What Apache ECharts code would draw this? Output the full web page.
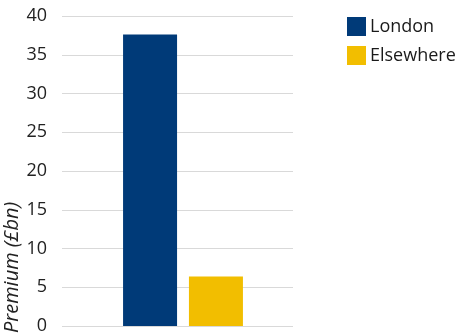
<!DOCTYPE html>
<html><head><meta charset="utf-8">
<script src="https://cdn.jsdelivr.net/npm/echarts@6/dist/echarts.min.js"></script>
<style>html,body{margin:0;padding:0;background:#fff}#c{width:461px;height:335px}</style>
</head><body><div id="c"></div>
<script>
const categories = ['Premium'];
const seriesNames = ['London', 'Elsewhere'];
const londonValues = [37.6];
const elsewhereValues = [6.4];
const yTicks = [0, 5, 10, 15, 20, 25, 30, 35, 40];
const axisTitle = 'Premium (£bn)';

const font = '"Open Sans", "Noto Sans", sans-serif';
const chart = echarts.init(document.getElementById('c'));
chart.setOption({
  animation: false,
  textStyle: { fontFamily: font },
  legend: {
    orient: 'vertical', left: 342, top: 12,
    itemWidth: 19, itemHeight: 19, itemGap: 10,
    icon: 'rect',
    textStyle: { fontSize: 18, color: '#1a1a1a', fontFamily: font, padding: [0, 0, 0, -1] },
    data: seriesNames
  },
  grid: [
    { left: 62, top: 16, width: 231, bottom: 9, outerBoundsMode: 'none', containLabel: false },
    { left: 62, top: 16, width: 242, bottom: 9, outerBoundsMode: 'none', containLabel: false }
  ],
  xAxis: [
    { type: 'category', gridIndex: 0, data: categories, show: false },
    { type: 'category', gridIndex: 1, data: categories, show: false }
  ],
  yAxis: [
    {
      type: 'value', gridIndex: 0, min: yTicks[0], max: yTicks[yTicks.length - 1], interval: 5,
      axisLine: { show: false }, axisTick: { show: false },
      axisLabel: { fontSize: 18, color: '#222', margin: 15, fontFamily: font },
      splitLine: { lineStyle: { color: '#d9d9d9', width: 1 } }
    },
    { type: 'value', gridIndex: 1, min: yTicks[0], max: yTicks[yTicks.length - 1], interval: 5, show: false }
  ],
  graphic: [{
    type: 'text', x: 22, y: 333, rotation: Math.PI / 2,
    style: { text: axisTitle, fontSize: 20, fontStyle: 'italic', fontFamily: font, fill: '#222', textAlign: 'left', textVerticalAlign: 'bottom' }
  }],
  series: [
    { name: seriesNames[0], type: 'bar', xAxisIndex: 1, yAxisIndex: 1, data: londonValues, barWidth: 54, barGap: '22%', itemStyle: { color: '#003A78' } },
    { name: seriesNames[1], type: 'bar', xAxisIndex: 1, yAxisIndex: 1, data: elsewhereValues, barWidth: 54, barGap: '22%', itemStyle: { color: '#F2BE00' } }
  ]
});
</script></body></html>
